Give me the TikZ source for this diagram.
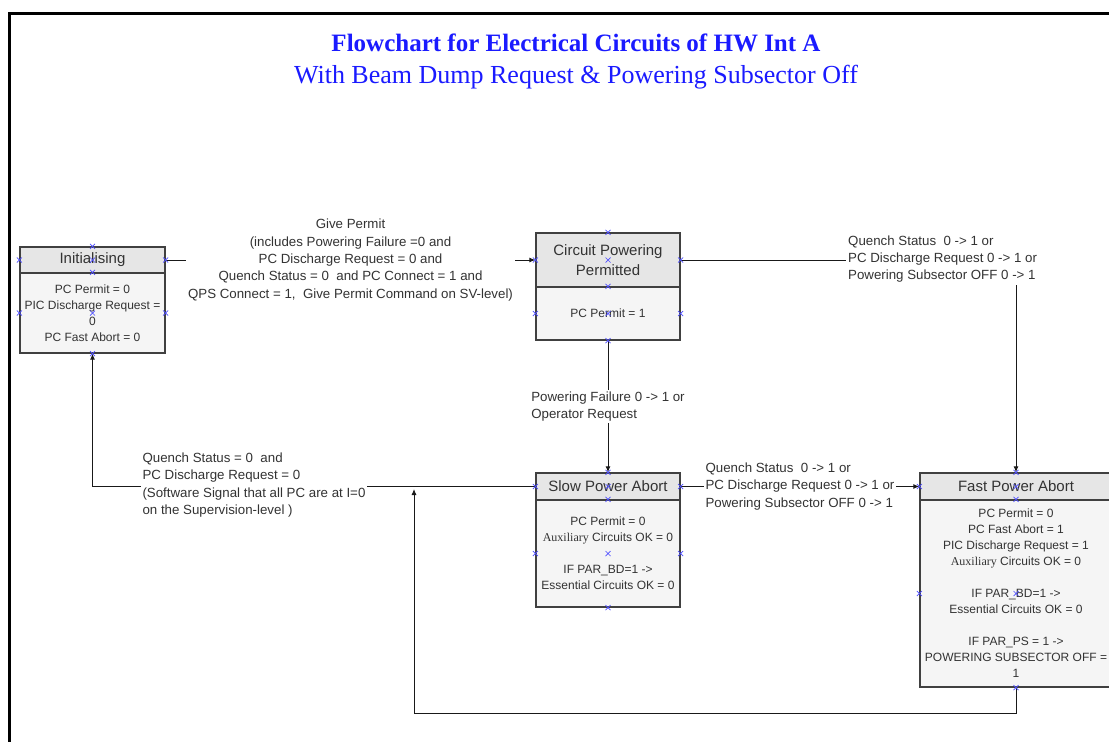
\documentclass[tikz,border=0pt]{standalone}
\usepackage{fontspec}
\setmainfont{Liberation Sans}
\newfontfamily\titlefont{Liberation Serif}
\newfontfamily\auxfont{Liberation Serif}
\usetikzlibrary{arrows.meta}
\definecolor{hdrc}{HTML}{E6E6E6}
\definecolor{bodyc}{HTML}{F5F5F5}
\definecolor{boxc}{HTML}{404040}
\definecolor{txtc}{HTML}{333333}
\definecolor{ttlc}{HTML}{1A1AFF}
\definecolor{mkc}{HTML}{4D4DFF}
\newcommand\cpx[1]{\draw[xmk] (#1) ++(-2.5,-2.5) -- ++(5,5) ++(-5,0) -- ++(5,-5);}
\begin{document}
\begin{tikzpicture}[x=1pt,y=-1pt,
 hdr/.style={draw=boxc, fill=hdrc, line width=1.3pt, text=txtc, font=\fontsize{15}{19}\selectfont, align=center, inner sep=0pt},
 bdy/.style={draw=boxc, fill=bodyc, line width=1.3pt, text=txtc, font=\fontsize{12}{16}\selectfont, align=center, inner sep=0pt},
 conn/.style={draw=black!90, line width=0.9pt},
 arr/.style={-{Latex[length=6pt,width=5pt]}},
 lbl/.style={fill=white, text=txtc, font=\fontsize{13.3}{17.3}\selectfont, inner sep=2pt},
 xmk/.style={draw=mkc, line width=0.7pt},
 ttl/.style={text=ttlc, inner sep=0pt}]
\clip (0,0) rectangle (1109,742);
\fill[white] (0,0) rectangle (1109,742);
% frame
\draw[line width=3pt] (9.5,760) -- (9.5,13.5) -- (1130,13.5);
% title
\node[ttl, font=\titlefont\bfseries\fontsize{25}{29}\selectfont] (t1) at (576,43) {Flowchart for Electrical Circuits of HW Int A};
\node[ttl, font=\titlefont\fontsize{26}{30}\selectfont] (t2) at (576,77) {With Beam Dump Request \& Powering Subsector Off};
% Initialising
\node[hdr, minimum width=145pt, minimum height=26pt] (iniH) at (92.5,260) {Initialising};
\node[bdy, minimum width=145pt, minimum height=80pt] (iniB) at (92.5,313) {PC Permit = 0\\PIC Discharge Request =\\0\\PC Fast Abort = 0};
% Circuit Powering Permitted
\node[hdr, minimum width=144pt, minimum height=54pt, font=\fontsize{15}{20}\selectfont] (cppH) at (608,260) {Circuit Powering\\Permitted};
\node[bdy, minimum width=144pt, minimum height=53pt] (cppB) at (608,313.5) {PC Permit = 1};
% Slow Power Abort
\node[hdr, minimum width=144pt, minimum height=27pt] (spaH) at (608,486.5) {Slow Power Abort};
\node[bdy, minimum width=144pt, minimum height=107pt] (spaB) at (608,553.5) {PC Permit = 0\\{\auxfont Auxiliary} Circuits OK = 0\\[16pt]IF PAR\_BD=1 ->\\Essential Circuits OK = 0};
% Fast Power Abort
\node[hdr, minimum width=192pt, minimum height=27pt] (fpaH) at (1016,486.5) {Fast Power Abort};
\node[bdy, minimum width=192pt, minimum height=187pt] (fpaB) at (1016,593.5) {PC Permit = 0\\PC Fast Abort = 1\\PIC Discharge Request = 1\\{\auxfont Auxiliary} Circuits OK = 0\\[16pt]IF PAR\_BD=1 ->\\Essential Circuits OK = 0\\[16pt]IF PAR\_PS = 1 ->\\POWERING SUBSECTOR OFF =\\1};
% connectors
\draw[conn,arr] (iniH.east) -- node[lbl, align=center] (l1) {Give Permit\\(includes Powering Failure =0 and\\PC Discharge Request = 0 and\\Quench Status = 0~~and PC Connect = 1 and\\QPS Connect = 1,~~Give Permit Command on SV-level)} (cppH.west);
\draw[conn,arr] (cppH.east) -| (fpaH.north);
\node[lbl, anchor=west, align=left] (l2) at (846,259) {Quench Status~~0 -> 1 or\\PC Discharge Request 0 -> 1 or\\Powering Subsector OFF 0 -> 1};
\draw[conn,arr] (cppB.south) -- node[lbl, align=left] (l3) {Powering Failure 0 -> 1 or\\Operator Request} (spaH.north);
\draw[conn,arr] (spaH.east) -- node[lbl, align=left] (l4) {Quench Status~~0 -> 1 or\\PC Discharge Request 0 -> 1 or\\Powering Subsector OFF 0 -> 1} (fpaH.west);
\draw[conn,arr] (spaH.west) -| (iniB.south);
\node[lbl, align=left] (l6) at (254,485) {Quench Status = 0~~and\\PC Discharge Request = 0\\(Software Signal that all PC are at I=0\\on the Supervision-level )};
\coordinate (m) at (414,489);
\draw[conn,arr] (fpaB.south) -- (fpaB.south |- 0,713) -| (m);
% connection points
\foreach \n in {iniH.north,iniH.center,iniH.west,iniH.east,iniB.north,iniB.west,iniB.east,iniB.center,iniB.south,
 cppH.north,cppH.center,cppH.west,cppH.east,cppB.north,cppB.west,cppB.east,cppB.center,cppB.south,
 spaH.north,spaH.center,spaH.west,spaH.east,spaB.north,spaB.west,spaB.east,spaB.center,spaB.south,
 fpaH.north,fpaH.center,fpaH.west,fpaH.east,fpaB.north,fpaB.west,fpaB.east,fpaB.center,fpaB.south}
 {\cpx{\n}}
\end{tikzpicture}
\end{document}
